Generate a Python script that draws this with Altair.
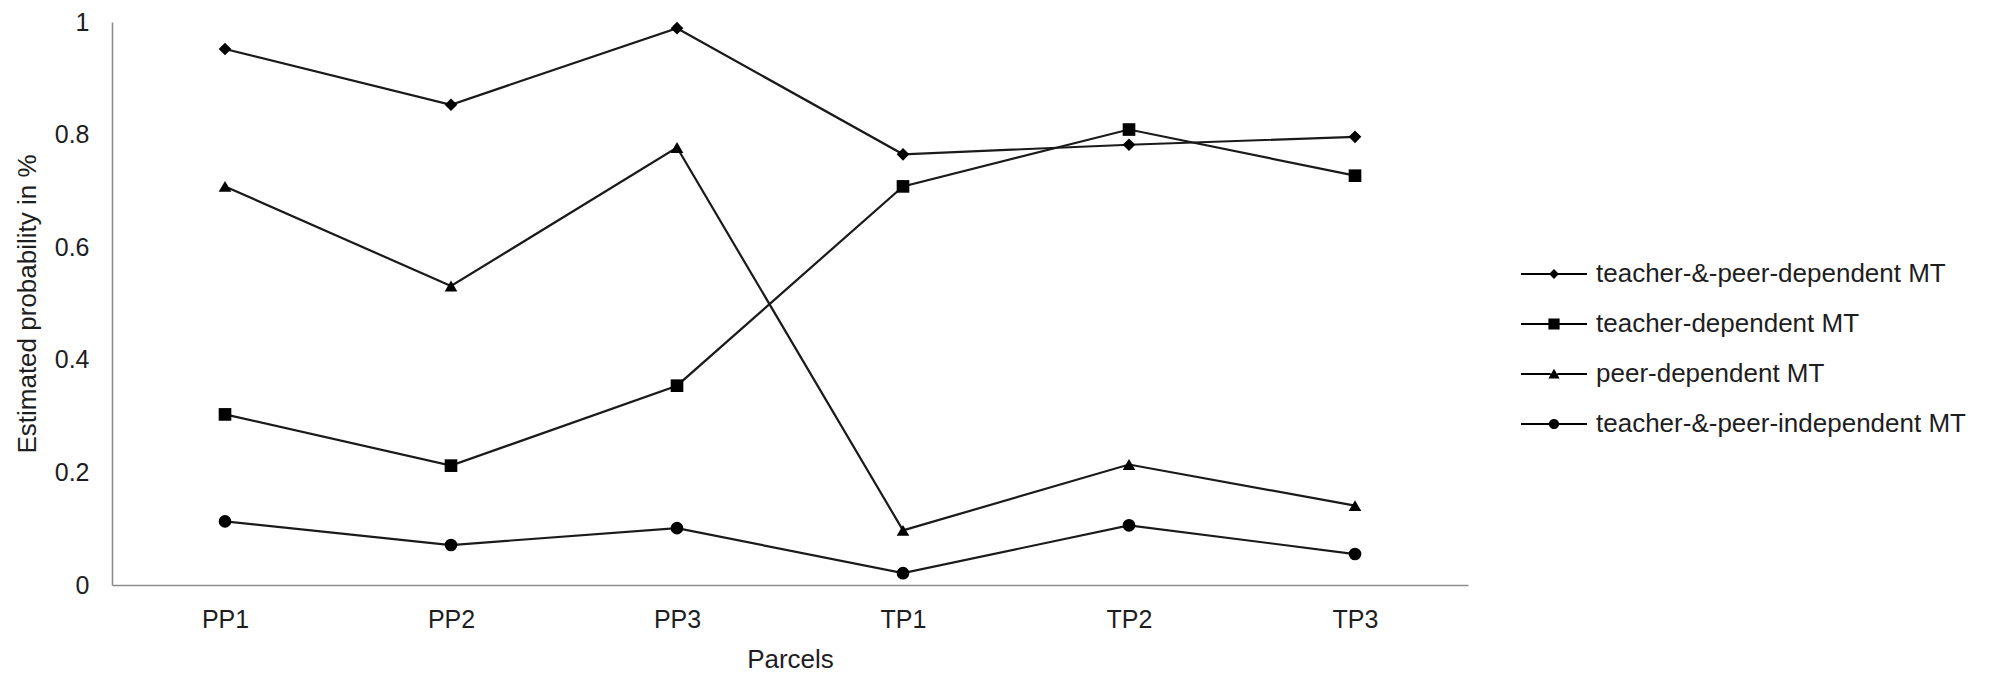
import altair as alt
import pandas as pd

parcels = ["PP1", "PP2", "PP3", "TP1", "TP2", "TP3"]
series = [
    "teacher-&-peer-dependent MT",
    "teacher-dependent MT",
    "peer-dependent MT",
    "teacher-&-peer-independent MT",
]
tp_dep = [0.952, 0.853, 0.989, 0.765, 0.782, 0.796]
t_dep = [0.303, 0.212, 0.354, 0.708, 0.809, 0.727]
p_dep = [0.708, 0.531, 0.777, 0.097, 0.214, 0.141]
tp_ind = [0.113, 0.071, 0.101, 0.021, 0.106, 0.055]

rows = []
for name, vals in zip(series, [tp_dep, t_dep, p_dep, tp_ind]):
    for p, v in zip(parcels, vals):
        rows.append({"parcel": p, "series": name, "value": v})
df = pd.DataFrame(rows)

FONT = "Liberation Sans"
TXT = "#1e1e1e"

x = alt.X("parcel:O", sort=parcels, title="Parcels",
          axis=alt.Axis(labelAngle=0, ticks=False, labelPadding=22, titlePadding=14,
                        domainColor="#8c8c8c", domainWidth=1.6))
y = alt.Y("value:Q", title="Estimated probability in %",
          scale=alt.Scale(domain=[0, 1], nice=False, zero=True),
          axis=alt.Axis(values=[0, 0.2, 0.4, 0.6, 0.8, 1], format="~g", ticks=False,
                        grid=False, labelPadding=23, titlePadding=14,
                        domainColor="#8c8c8c", domainWidth=1.6))

base = alt.Chart(df)

lines = base.mark_line(color="#1a1a1a", strokeWidth=2.2).encode(x=x, y=y, detail="series:N")

points = base.mark_point(filled=True, color="#000000", size=160, opacity=1).encode(
    x=x, y=y,
    shape=alt.Shape("series:N", legend=None,
                    scale=alt.Scale(domain=series,
                                    range=["diamond", "square", "triangle-up", "circle"])),
)

seg = "M-1,-0.032H-0.1V0.032H-1ZM0.1,-0.032H1V0.032H0.1Z"
legend_paths = [
    seg + "M-0.15,0L0,-0.15L0.15,0L0,0.15Z",
    seg + "M-0.17,-0.17H0.17V0.17H-0.17Z",
    seg + "M0,-0.16L0.17,0.14H-0.17Z",
    seg + "M-0.155,0A0.155,0.155,0,1,1,0.155,0A0.155,0.155,0,1,1,-0.155,0Z",
]

legend_layer = base.transform_filter("datum.value < 0").mark_point(
    filled=True, color="#000000", opacity=1
).encode(
    x=x, y=y,
    shape=alt.Shape("series:N", title=None,
                    scale=alt.Scale(domain=series, range=legend_paths),
                    legend=alt.Legend(orient="none", legendX=1409, legendY=219,
                                      symbolSize=4356, symbolFillColor="#111111",
                                      symbolStrokeWidth=0,
                                      symbolOpacity=1, labelFontSize=26, labelFont=FONT,
                                      labelColor=TXT, labelOffset=9, rowPadding=4,
                                      labelLimit=600)),
)

chart = alt.layer(lines, points, legend_layer).resolve_scale(shape="independent").properties(
    width=1356, height=563,
    padding={"left": 6, "top": 2, "right": 0, "bottom": 0},
).configure_view(stroke=None).configure_axis(
    labelFont=FONT, titleFont=FONT, labelFontSize=25, titleFontSize=26,
    labelColor=TXT, titleColor=TXT, titleFontWeight="normal",
)

chart.save("out.html", embed_options={"renderer": "svg", "actions": False})
